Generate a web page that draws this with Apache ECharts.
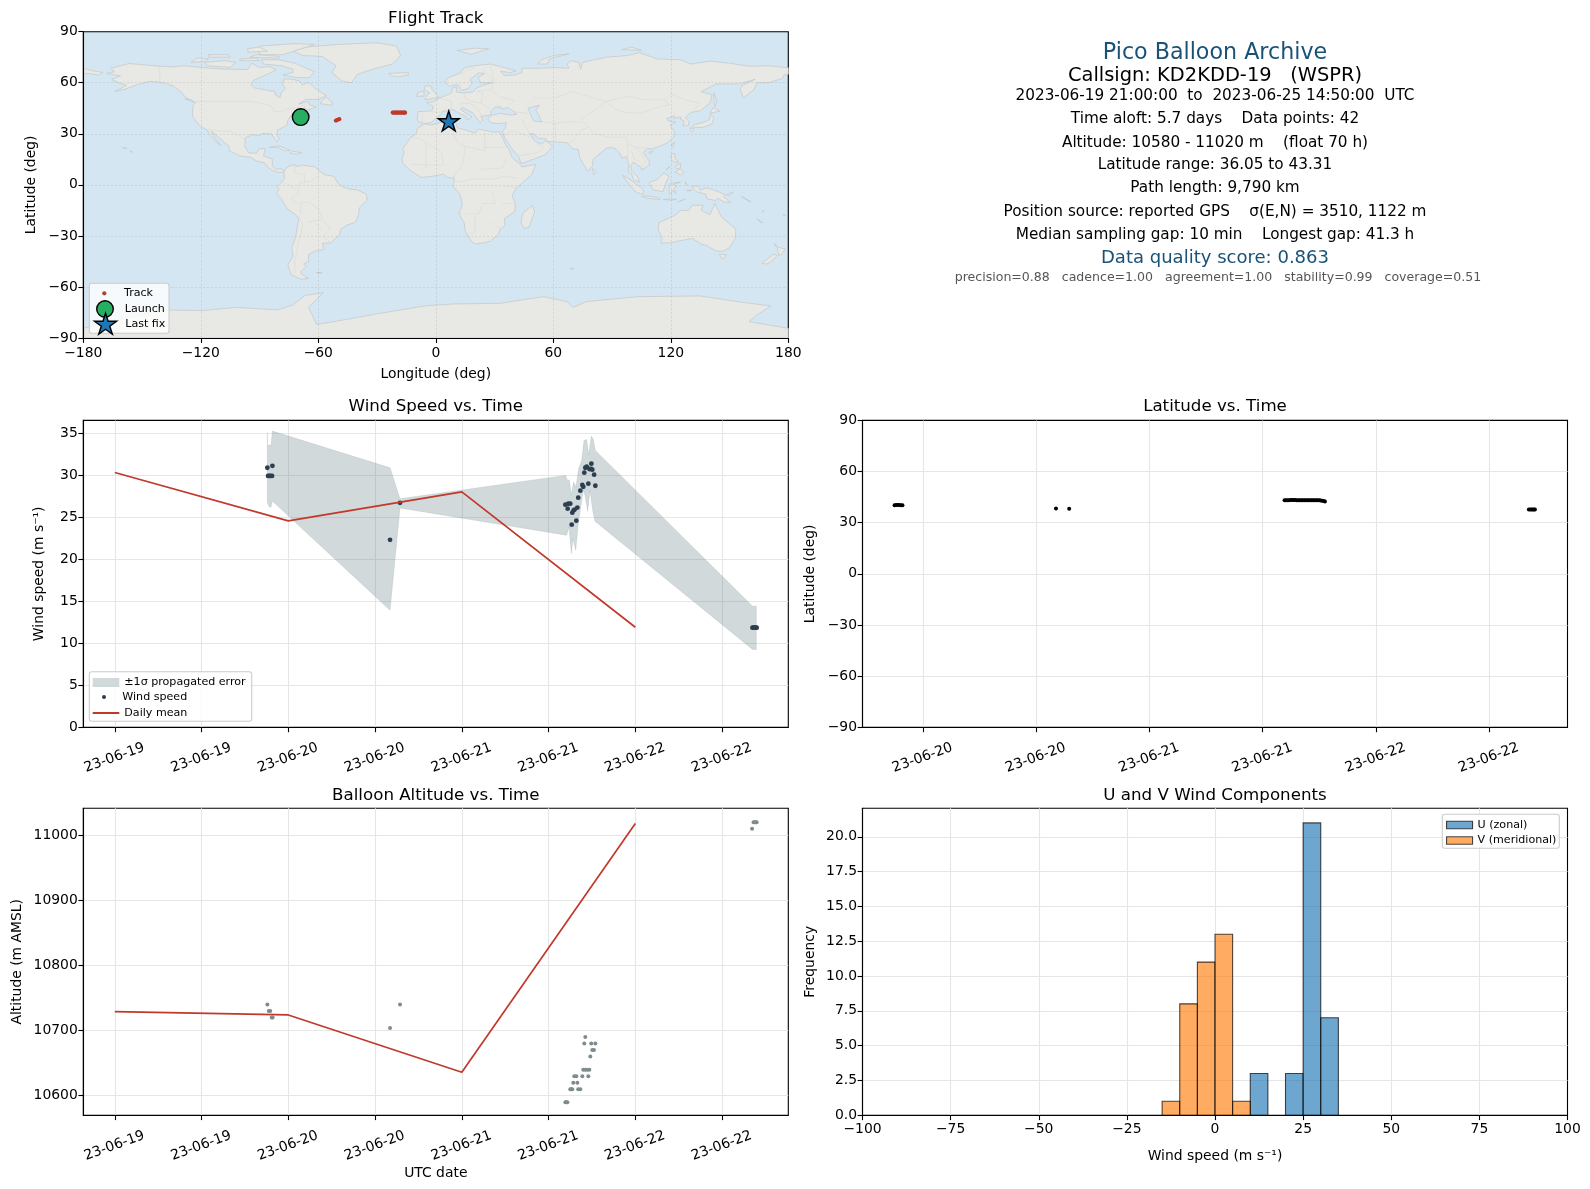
<!DOCTYPE html>
<html><head><meta charset="utf-8">
<script src="https://cdn.jsdelivr.net/npm/echarts@6/dist/echarts.min.js"></script>
<style>html,body{margin:0;padding:0;background:#fff}#c{width:1590px;height:1189px}</style>
</head><body><div id="c"></div>
<script>
// ---------- data ----------
const titles = ['Flight Track','Wind Speed vs. Time','Latitude vs. Time','Balloon Altitude vs. Time','U and V Wind Components'];
const infoLines = [
 ['Pico Balloon Archive',22.2,'#1a5276',53,1215],
 ['Callsign: KD2KDD-19   (WSPR)',19.44,'#000',75.8,1215],
 ['2023-06-19 21:00:00  to  2023-06-25 14:50:00  UTC',15.28,'#000',96.4,1215],
 ['Time aloft: 5.7 days    Data points: 42',15.28,'#000',119.2,1215],
 ['Altitude: 10580 - 11020 m    (float 70 h)',15.28,'#000',142.6,1215],
 ['Latitude range: 36.05 to 43.31',15.28,'#000',164.8,1215],
 ['Path length: 9,790 km',15.28,'#000',188.2,1215],
 ['Position source: reported GPS    σ(E,N) = 3510, 1122 m',15.28,'#000',211.7,1215],
 ['Median sampling gap: 10 min    Longest gap: 41.3 h',15.28,'#000',234.9,1215],
 ['Data quality score: 0.863',18.05,'#1a5276',258.6,1215],
 ['precision=0.88   cadence=1.00   agreement=1.00   stability=0.99   coverage=0.51',12.55,'#555',278,1218]
];
const launch = [[-69,39.8]];
const lastFix = [[6.6,37.5]];
const trackLon = [-69,-68.8,-68.6,-68.4,-68.2,-68,-51,-50.2,-49.3,-22,-21.5,-21,-20.5,-20,-19.5,-19,-18.5,-18,-17.5,-17,-16.5,-16,-15.7,6,6.2,6.4,6.6];
const trackLat = [40,40,40,40,40,40,37.8,38.2,38.6,42.5,42.5,42.5,42.5,42.5,42.5,42.5,42.5,42.5,42.5,42.5,42.5,42.5,42.4,37.5,37.5,37.5,37.5];

const windHours = [21.1,21.2,21.37,21.56,21.75,21.8,38.07,39.45,62.32,62.64,62.73,63.0,63.2,63.28,63.47,63.6,63.84,63.98,64.1,64.39,64.67,64.8,64.94,65.08,65.27,65.5,65.64,65.9,65.92,66.05,66.3,66.47,88.2,88.35,88.5,88.65,88.78];
const windSpeed = [30.87,29.9,29.9,29.9,29.9,31.1,22.3,26.7,26.48,26.0,26.6,26.6,24.1,25.53,25.81,25.89,24.58,26.13,27.31,28.14,28.82,28.6,30.28,30.87,30.99,28.98,30.72,30.72,31.35,30.64,30.04,28.73,11.85,11.85,11.85,11.85,11.85];
const bandUpper = [[21.1,35.03],[21.12,33.53],[21.38,33.53],[21.61,33.53],[21.79,35.23],[38.07,30.87],[39.45,27.19],[62.36,29.96],[62.64,29.33],[62.87,29.45],[63.15,27.67],[63.47,29.17],[63.79,28.58],[64.16,30.76],[64.58,31.75],[64.9,34.12],[65.27,34.24],[65.54,32.42],[65.91,34.64],[66.19,34.24],[66.47,32.93],[88.22,14.41],[88.73,14.41]];
const bandLower = [[21.1,26.72],[21.38,26.2],[21.61,26.2],[21.79,26.9],[38.07,13.93],[39.45,26.08],[62.5,22.84],[62.82,23.83],[63.15,20.66],[63.38,22.44],[63.75,21.06],[64.11,24.22],[64.58,26.99],[64.81,28.18],[65.04,27.59],[65.41,25.69],[65.73,28.18],[66.1,25.81],[66.42,24.5],[88.22,9.26],[88.73,9.26]];
const meanHours = [0,24,48,72];
const windMean = [30.3,24.55,28.0,11.9];
const altMean = [10729,10724,10636,11018];

const latHours = [21.0,21.17,21.33,21.5,21.67,21.83,38.1,39.5,62.32,62.48,62.64,62.8,62.96,63.12,63.28,63.44,63.6,63.76,63.92,64.08,64.24,64.4,64.56,64.72,64.88,65.04,65.2,65.36,65.52,65.68,65.84,66.0,66.16,66.32,66.48,66.6,88.2,88.35,88.5,88.62,88.75,88.85];
const latValues = [40.3,40.4,40.4,40.4,40.3,40.2,38.4,38.2,43.1,43.2,43.2,43.2,43.3,43.3,43.3,43.3,43.2,43.2,43.2,43.2,43.2,43.2,43.2,43.1,43.2,43.2,43.2,43.2,43.1,43.1,43.1,43.1,43,42.9,42.7,42.5,37.8,37.8,37.8,37.8,37.8,37.8];

const altHours = [21.1,21.3,21.5,21.7,21.83,38.07,39.45,62.32,62.46,62.6,63.0,63.14,63.28,64.1,64.39,63.42,63.98,63.56,63.84,64.67,65.5,64.8,65.08,65.36,65.64,65.77,66.05,66.28,64.94,65.9,66.47,65.08,88.15,88.35,88.5,88.65,88.78];
const altValues = [10740,10730,10730,10720,10720,10704,10740,10590,10590,10590,10610,10610,10610,10610,10610,10620,10620,10630,10630,10630,10630,10640,10640,10640,10640,10660,10670,10670,10680,10680,10680,10690,11010,11020,11020,11020,11020];

const binEdgesV = [-15,-10,-5,0,5,10];
const countsV = [1,8,11,13,1];
const binEdgesU = [10,15,20,25,30,35];
const countsU = [3,0,3,21,7];

const windTickHours = [0,12,24,36,48,60,72,84];
const windTickLabels = ['23-06-19','23-06-19','23-06-20','23-06-20','23-06-21','23-06-21','23-06-22','23-06-22'];
const latTickHours = [24,36,48,60,72,84];
const latTickLabels = ['23-06-20','23-06-20','23-06-21','23-06-21','23-06-22','23-06-22'];

const landPolygons = [
 // North America
 [[-168,65.5],[-164,66.5],[-166,68.5],[-156.5,71.3],[-141,69.7],[-135,69.3],[-128,70],[-115,68.5],[-108,68],[-96,67.8],[-94,71.5],[-90,69],[-85,69.5],[-81.5,67.5],[-87,64.5],[-93,61.5],[-94.5,58.8],[-92.5,57],[-85,55.3],[-82.2,55],[-82,52.8],[-79.5,51.3],[-79,54],[-76.8,56.5],[-78.3,59],[-77.5,62.3],[-73,62],[-69.5,61],[-68,58.5],[-65,60.3],[-61.5,56.5],[-56,52.5],[-60,50.2],[-66.5,50.2],[-70,47.5],[-65,49],[-64.5,47],[-61,45.8],[-66,43.7],[-66.5,45],[-70,43.7],[-70.5,41.8],[-74,40.6],[-75.5,38],[-76,35],[-81,32],[-81,30],[-80,26.5],[-81,25.2],[-82.8,28],[-84,30],[-89,30.2],[-90,29],[-94,29.5],[-97.3,27.5],[-97.5,22.5],[-95.5,18.8],[-91.5,18.5],[-90.5,21],[-87,21.5],[-88,17],[-83.5,15.2],[-83.5,11],[-81.5,9],[-79.5,9.5],[-77.3,8.5],[-78,7.5],[-80.5,7.3],[-83,8.2],[-85.5,10],[-87.5,13],[-91.5,14],[-94.5,16.2],[-100,17],[-105.5,20],[-105.5,22.5],[-109,26],[-112.5,29.5],[-114.7,31.5],[-112.5,27],[-109.5,23],[-112,25],[-115,29],[-117,32.5],[-120.5,34.5],[-122.5,37.5],[-124.3,40.5],[-124,46.5],[-122.7,48.5],[-127.5,51],[-130,54.5],[-134,58],[-139,60],[-146,60.8],[-152,59],[-158,56.5],[-164,54.8],[-158,58.5],[-162,60],[-165.5,62],[-161,64]],
 [[-73,78.5],[-66,81],[-50,82.5],[-30,83.5],[-20,81.5],[-18,76],[-22,71],[-32,68],[-40,65],[-43,60],[-48,61],[-53,66],[-51,70],[-58,75.5],[-68,76]],
 [[-80,73.5],[-72,71.5],[-67,69],[-62,66.5],[-64.5,63],[-71,63],[-78,64.5],[-73,66],[-73,68],[-79,70],[-88,71],[-89,73.5]],
 [[-117,70],[-105,69],[-102,72],[-108,73],[-118,72]],
 [[-125,72],[-118,72.5],[-116,74],[-122,74.5]],
 [[-90,76.5],[-78,76.5],[-62,82.5],[-72,83],[-90,81.5]],
 [[-95,75],[-80,74.5],[-80,75.5],[-92,76.5]],
 [[-116,75],[-105,75],[-106,76.5],[-116,76.5]],
 [[-100,73],[-90,73],[-92,74.5],[-100,74]],
 [[-96,78],[-86,78.5],[-90,81],[-96,80]],
 [[-59,47.7],[-53,46.7],[-53,48.7],[-56,51.5],[-58,49.5]],
 [[-128,50.5],[-123.5,48.5],[-125,50]],
 [[-85,22],[-80,23],[-74.3,20.2],[-77.5,20],[-80,21.8],[-83,22]],
 [[-74.4,18.5],[-73,19.8],[-68.5,18.8],[-71,18]],
 [[-156,20],[-155,19.5],[-155.7,19]],
 [[-160,22],[-158,21.3],[-157.8,21.6]],
 // South America
 [[-77.3,8.5],[-75,11],[-72,12],[-71.5,10.8],[-68,11.5],[-62,10.7],[-57,6],[-52,5],[-50,1],[-48,-1],[-44,-2.5],[-40,-3],[-35.5,-5.5],[-35,-9],[-39,-13.5],[-39.5,-18],[-41,-22],[-45,-23.5],[-48.5,-26],[-49,-29],[-53.5,-34],[-58,-34.5],[-57,-38],[-62,-39],[-65,-41],[-65,-45],[-67.5,-46.5],[-66,-48],[-69,-51],[-68.5,-52.5],[-65,-55],[-69,-55.5],[-74,-52.5],[-75.5,-47],[-73,-42],[-73.5,-37],[-71.5,-30],[-70,-20],[-71.5,-17.5],[-76,-14],[-79,-8],[-81.3,-5],[-80,-2.5],[-81,-1],[-78.5,2],[-77.3,4],[-77.5,7]],
 [[-61,-51.5],[-58,-51.5],[-59,-52.2]],
 // Africa
 [[-6,35.8],[-2,35.2],[3,36.8],[10,37.3],[11,33.5],[15,32.3],[20,30.5],[22,32.8],[29,31],[32.5,31.2],[34,28],[35.5,24],[37.3,21],[39,16],[43,12],[44,10.5],[51,12],[49,6],[45,2],[41,-2],[39,-6],[40.5,-11],[40.5,-15.5],[35,-20],[35.3,-24],[32.8,-26],[32,-29],[28,-33],[25,-34],[20,-34.8],[18,-33],[15,-27],[14.5,-22.5],[11.8,-17],[13.5,-12],[13,-8],[12,-5],[9,-1],[9.5,4],[6,4.3],[4,6.3],[-2,5],[-7.5,4.4],[-13,8.5],[-16.8,12.5],[-17.3,15],[-16,19.5],[-17,21],[-13,27.7],[-10,30],[-9.5,33]],
 // Eurasia
 [[-9.5,38.7],[-9,43],[-2,43.5],[-1.2,46],[-4.7,48.4],[-1.5,48.7],[1.5,50.8],[4,52],[8,54],[8.5,57],[10.5,57.5],[10.5,54.5],[14,54],[19,54.5],[21,57],[24,58.5],[29,60],[23,60],[21.5,63],[25,65.5],[22,65.8],[17.5,62],[18.5,59.5],[16.5,56.5],[13,55.5],[11,59],[7,58],[5,60],[5.5,62.5],[12,65.5],[15,69],[21,70.2],[28,71],[33,69.5],[41,67],[38,66],[33,66.7],[35,64.3],[40,64.5],[44,66],[44,68.5],[54,68.5],[60,69],[68,68.5],[67,71],[69,73],[73,72],[74,68],[75,72],[81,73.5],[87,75],[98,76],[104,77.7],[113,74],[125,73.5],[130,71],[140,72.7],[150,71.5],[160,69.7],[170,70],[178,69],[180,68.8],[180,65],[178,64.7],[177,62.5],[170,60],[164,60],[162.5,56],[157,51],[155.5,56],[156,58],[163,62],[155,59.3],[143,59.3],[135.5,54.7],[141,53],[140,48],[135,43.5],[130,42.5],[127.5,39.5],[129.3,37],[129,35],[126.3,34.5],[126.8,37.5],[125,38.5],[125,40],[121.5,39],[122,40.5],[118,39],[119,37.3],[122.5,37],[119.5,35],[122,31],[121.5,28],[118,24.5],[113.5,22.3],[110,21],[108,21.5],[106,19],[109,14],[109,11.5],[105,8.7],[105,10],[102.5,12.2],[100.8,13.3],[99.5,11],[100,8],[103,5],[104,1.5],[101,3],[100,6.5],[98.3,8],[98.5,12],[97.5,16.5],[95,16],[94,18.5],[92,21],[90,22],[87,21.5],[85,19.5],[80.3,15],[80,11],[77.5,8],[76,11],[73.5,16],[72.8,21],[70,21],[69,22.5],[67,24.8],[61.5,25.2],[57,25.5],[56.3,27],[52,27.5],[50,30],[48,30],[50,26.5],[51.5,25],[54,24],[56.3,26],[59.8,22.5],[55.5,17.5],[52,16],[45,13],[43.3,12.7],[42.5,16.5],[39,21],[35,28],[34,31.2],[35.5,33.5],[36,36.5],[32,36],[28,36.5],[26.5,39],[29,41],[33,42],[38,41],[41.5,41.5],[38,44.5],[37,45.5],[33.5,44.5],[33,46],[30,45.5],[28,43],[28.5,41.2],[26,40.7],[23,40.3],[24,38],[22.5,36.5],[19.5,41.5],[18.5,42.5],[13.5,45.5],[12.5,44.5],[16,41.5],[18.5,40],[16,38],[15.7,40],[10.5,43],[8.7,44.4],[3.2,43],[3,41.7],[0,39],[-2,36.8],[-5.5,36],[-9,37]],
 [[-180,68.5],[-175,67],[-170,66],[-172,64.5],[-178,65.5],[-180,65]],
 [[-5.5,50],[1.5,51.3],[0,53.5],[-2,56],[-2,57.7],[-5,58.5],[-6,56],[-3,54],[-5,52]],
 [[-10,52],[-6,52.2],[-6,55],[-9,54.5]],
 [[-24,65.5],[-14,66],[-14,64.7],[-19,63.4],[-22.5,64]],
 [[11,79],[20,80.3],[27,80],[18,76.7]],
 [[52,71],[57,71],[58,74],[68,77],[60,76],[54,73.5]],
 [[95,79.5],[105,79],[100,81]],
 [[142,54],[143.5,49],[142.5,46],[142,50]],
 [[131,34],[136,33.6],[141,35.7],[142,39.5],[140.5,41.5],[139.5,38],[136,36.5],[132,35.5]],
 [[140,42],[145,43.3],[141.7,45.5]],
 [[130,33.5],[132,33],[131,31],[130,32]],
 [[120.2,23],[121.8,25.2],[121,22]],
 [[108.8,19],[110.8,20],[110,18.3]],
 [[80,9.7],[82,7.5],[80.5,6]],
 [[120,16],[120.7,18.5],[122.2,18.2],[122,16],[124,13],[121,13.7]],
 [[122,7.5],[125,9.5],[126.5,7],[125,5.8]],
 [[122,11],[125,12.5],[125,10],[123,9.5]],
 [[117.3,8.5],[119.5,11],[119,10]],
 [[109,1.5],[113,3],[116.5,7],[119,5],[117.5,1],[116,-4],[111,-3],[110,-1]],
 [[95.3,5.6],[98,4],[104,-1],[106,-3],[105.8,-5.8],[102,-4],[99,0]],
 [[105.2,-6.8],[108.5,-6.5],[114.5,-7.8],[114.3,-8.7],[108,-7.8]],
 [[119.5,-5.5],[119,-3],[120,1],[125,1.5],[121,0.3],[123,-1],[121.5,-2],[122.8,-5],[120.5,-3],[120.4,-5.5]],
 [[124,-10],[127,-8.5],[125,-9.3]],
 [[116,-8.6],[119,-8.3],[123,-8.5],[120,-9]],
 [[127.5,1.8],[128.5,-0.5],[127.8,0]],
 [[128,-3],[130.8,-3.2],[128.5,-3.6]],
 [[131,-0.8],[134,-0.8],[135,-3.3],[138,-1.7],[141,-2.6],[145,-4.3],[147.8,-6],[147,-7],[150.5,-10.5],[147,-10],[144,-7.8],[143,-9.2],[138.5,-8.3],[138,-5.5],[133,-4],[132,-2.8]],
 [[148.5,-5.7],[152,-4.2],[150,-6.3]],
 [[156,-6.8],[161,-10],[160,-9.7]],
 [[164,-20],[167,-22.3],[165.5,-21.8]],
 [[167,-15],[167.5,-16],[166.8,-15.8]],
 [[177.5,-17.5],[178.5,-18],[177.5,-18.2]],
 [[113.5,-26],[114,-22],[117,-20.7],[122,-18],[125,-15],[129,-15],[131,-12],[136.5,-12],[135.5,-15],[140,-17.5],[141.7,-13],[142.5,-10.8],[144,-14.5],[146,-19],[149.5,-22.5],[153.2,-26],[153,-31],[150,-37],[146.5,-39],[143,-38.8],[138,-35.5],[135.5,-34.8],[131,-31.5],[124,-33],[120,-34],[115,-34.3],[115.5,-31]],
 [[144.8,-40.8],[148.3,-41],[147,-43.5],[146,-43.5]],
 [[172.8,-34.5],[175,-36.8],[178.5,-37.7],[176.5,-41],[175,-41.5],[174.8,-39],[174.5,-37.5]],
 [[172.7,-40.6],[174.2,-41.7],[171,-45.5],[168.5,-46.6],[166.5,-46],[170,-43]],
 [[49.3,-12],[50.5,-16],[47.5,-25],[45,-25.5],[43.5,-22],[44.5,-16.5]],
 [[68.7,-49],[70.5,-49.3],[69.5,-49.8]],
 // Antarctica
 [[-180,-84.3],[-165,-80],[-150,-76.5],[-141,-73.5],[-119,-73.9],[-102,-72],[-81,-73.5],[-73,-70.6],[-66.8,-65],[-57.4,-63.3],[-65,-72],[-60.8,-82],[-47,-79.4],[-28.5,-75.5],[-4.6,-71],[9,-70],[33,-69.6],[55,-65.7],[67,-68.6],[70,-72],[77,-68.6],[103,-65.7],[135,-65.3],[154,-68.6],[171,-71.2],[164,-76.5],[160,-80.4],[180,-84.3],[180,-90],[-180,-90]]
];
const lakePolygons = [
 [[47,45],[53,46.8],[51,44],[53,40],[54,37],[50,37.5],[49,40]]
];
const borderLines = [
 [[-123,49],[-95,49],[-89,48],[-84,46.5],[-82.5,43],[-79,43],[-75,45],[-71,45],[-67,47],[-67,45]],
 [[-141,69.7],[-141,60],[-135,59],[-130,55]],
 [[-117,32.5],[-108,31.5],[-106,31.7],[-101,29.7],[-97.3,26]],
 [[-60,5],[-64,2],[-70,1],[-70,-4],[-74,-8],[-70,-11],[-65,-10],[-60,-14],[-58,-20],[-55,-24],[-54,-26],[-57.5,-30],[-53.5,-34]],
 [[-70,-18],[-68,-24],[-70,-33],[-72,-45],[-72,-52]],
 [[-78.5,1.5],[-75,0],[-70,-4]],
 [[-72,12],[-72,7],[-67,6],[-67,1.5]],
 [[-69,-11],[-69,-17]],[[-65,-22],[-58,-20]],[[-62,-22],[-58,-27]],
 [[-8.7,27.5],[-13,27.7]],[[-8.7,27.5],[3,19],[4,11]],[[12,23.5],[25,20],[25,31]],[[25,22],[37,22]],
 [[15,23],[14,13],[9,4.5]],[[22,11],[24,9],[34,10],[36,15]],[[29,-4],[30,-11],[24,-11],[22,-17],[12,-17]],
 [[20,-18],[20,-28],[17,-29]],[[29,-22],[33,-26]],[[34,-11],[40,-11]],[[34,-1],[41,-1.5]],
 [[42,4],[35,5],[30,3.5],[18,3.5],[14,2],[9.5,2.2]],[[-12,12],[3,11.5]],[[-5,25],[-5,10]],[[10,37],[9,30],[12,23.5]],
 [[28,70],[30,60],[28,56],[32,52],[40,49.5],[38,47]],[[47,42],[40,43]],
 [[50,51],[61,51],[70,55],[80,51],[87,49],[98,52],[107,50],[117,50],[120,53.5],[127,50],[135,48],[131,43]],
 [[87,49],[80,43],[74,39],[78,34],[81,30],[88,28],[97,28],[98,24],[102,22],[108,21.5]],
 [[87,49],[91,45],[97,42.5],[105,42],[112,45],[119,47],[117,50]],
 [[68,24],[71,27],[74,32],[78,34]],[[44,39],[46,34],[48,30]],[[61,37],[61,30],[61.5,25]],[[54,37],[61,36],[66,37],[74,37]],
 [[35,29],[39,32],[46,29],[48,28]],[[43,17],[52,19],[55,22],[52,24]],
 [[2,51],[8,49],[7.5,44]],[[-2,43],[3,42.5]],[[-7,42],[-7,37]],[[14,54],[15,51],[18,49],[23,48],[28,45]],
 [[23,48],[24,54],[21,55],[28,56]],[[12,47.5],[17,48],[20,46],[22,44],[23,41]],[[12,65],[20,69]],[[12,60],[13,55.5]],[[24,68],[29,62],[28,60]],
 [[98,24],[98,15],[99,10]],[[102,22],[105,18],[107,14],[105,10.5]],[[100,20],[101,15],[104,14]]
];

// ---------- layout ----------
const F = 'DejaVu Sans';
const COL = [83.3, 862.5], W = 705;
const boxes = [
 {left:COL[0],top:31.7,width:W,height:306.3},
 {left:COL[0],top:420.4,width:W,height:306.9},
 {left:COL[1],top:420.4,width:W,height:306.9},
 {left:COL[0],top:808.3,width:W,height:306.9},
 {left:COL[1],top:808.3,width:W,height:306.9}
];
const titleTops = [10,398,398,787,787];
const grids = boxes.map((b,i)=>({...b,show:true,borderColor:'#000',borderWidth:1.1,
  backgroundColor:i===0?'#d4e6f1':'#fff',containLabel:false}));

const gridLine = {show:true,lineStyle:{color:'#e6e6e6',width:1.1}};
const gridNoEnds = {...gridLine,showMinLine:false,showMaxLine:false};
const gridNoMin = {...gridLine,showMinLine:false};
const mapGridLine = {show:true,showMinLine:false,showMaxLine:false,lineStyle:{color:'rgba(120,120,120,0.22)',width:0.8,type:[2,2]}};
const axLine = {show:true,onZero:false,lineStyle:{color:'#000',width:1.1}};
const tick = {show:true,length:4.9,lineStyle:{color:'#000',width:1.1}};
const lab = {color:'#000',fontFamily:F,fontSize:13.9,margin:5.5};
const yLab = {...lab,padding:[4,0,0,0]};
const nameTs = {color:'#000',fontFamily:F,fontSize:13.9};
const minus = v=>String(v).replace('-','−');

function hourAxis(gi,min,max,hours,labels,name){
 return {type:'value',gridIndex:gi,min,max,
  axisLine:axLine,splitLine:gridLine,
  axisTick:{...tick,customValues:hours},
  axisLabel:{...lab,customValues:hours,rotate:20,align:'center',verticalAlign:'top',margin:23,padding:[0,6,0,0],hideOverlap:false,
    formatter:v=>labels[hours.indexOf(v)]},
  name,nameLocation:'middle',nameGap:51,nameTextStyle:nameTs};
}
const altTicks=[10600,10700,10800,10900,11000];
const windTicks=[0,5,10,15,20,25,30,35];
const histYTicks=[0,2.5,5,7.5,10,12.5,15,17.5,20];

const xAxes=[
 {type:'value',gridIndex:0,min:-180,max:180,interval:60,z:1,axisLine:axLine,axisTick:tick,splitLine:mapGridLine,
  axisLabel:{...lab,margin:8.5,formatter:minus},name:'Longitude (deg)',nameLocation:'middle',nameGap:29,nameTextStyle:nameTs},
 hourAxis(1,-4.36,93.16,windTickHours,windTickLabels,''),
 hourAxis(2,17.6,92.3,latTickHours,latTickLabels,''),
 hourAxis(3,-4.36,93.16,windTickHours,windTickLabels,'UTC date'),
 {type:'value',gridIndex:4,min:-100,max:100,interval:25,axisLine:axLine,axisTick:tick,splitLine:gridNoEnds,
  axisLabel:{...lab,margin:7.5,formatter:minus},name:'Wind speed (m s⁻¹)',nameLocation:'middle',nameGap:34,nameTextStyle:nameTs}
];
const yAxes=[
 {type:'value',gridIndex:0,min:-90,max:90,interval:30,z:1,axisLine:axLine,axisTick:tick,splitLine:mapGridLine,
  axisLabel:{...yLab,formatter:minus},name:'Latitude (deg)',nameLocation:'middle',nameGap:45,nameTextStyle:nameTs},
 {type:'value',gridIndex:1,min:0,max:36.5,axisLine:axLine,axisTick:{...tick,customValues:windTicks},splitLine:gridNoMin,
  axisLabel:{...yLab,customValues:windTicks},name:'Wind speed (m s⁻¹)',nameLocation:'middle',nameGap:37,nameTextStyle:nameTs},
 {type:'value',gridIndex:2,min:-90,max:90,interval:30,axisLine:axLine,axisTick:tick,splitLine:gridNoEnds,
  axisLabel:{...yLab,formatter:minus},name:'Latitude (deg)',nameLocation:'middle',nameGap:45,nameTextStyle:nameTs},
 {type:'value',gridIndex:3,min:10570,max:11041.5,axisLine:axLine,axisTick:{...tick,customValues:altTicks},splitLine:gridLine,
  axisLabel:{...yLab,customValues:altTicks,formatter:v=>String(v)},name:'Altitude (m AMSL)',nameLocation:'middle',nameGap:59,nameTextStyle:nameTs},
 {type:'value',gridIndex:4,min:0,max:22.05,axisLine:axLine,axisTick:{...tick,customValues:histYTicks},splitLine:gridNoMin,
  axisLabel:{...yLab,customValues:histYTicks,formatter:v=>v.toFixed(1)},name:'Frequency',nameLocation:'middle',nameGap:45,nameTextStyle:nameTs}
];

function polyRender(list,style,closed){
 return (params,api)=>({type:closed?'polygon':'polyline',shape:{points:list[params.dataIndex].map(p=>api.coord(p))},style,silent:true});
}
const indexData=l=>l.map((_,i)=>[i,0]);

const STAR='path://M50 0L61.2 34.55L97.55 34.55L68.17 55.9L79.39 90.45L50 69.1L20.61 90.45L31.83 55.9L2.45 34.55L38.8 34.55Z';
const BAND='rgba(102,128,135,0.3)';
const BLUE='rgba(31,119,180,0.65)', ORANGE='rgba(255,127,14,0.65)', EDGE='rgba(0,0,0,0.7)';
const zip=(a,b)=>a.map((v,i)=>[v,b[i]]);

function histSeries(name,edges,counts,fill){
 return {name,type:'custom',xAxisIndex:4,yAxisIndex:4,z:3,clip:true,
  data:counts.map((c,i)=>[edges[i],edges[i+1],c]).filter(d=>d[2]>0),
  encode:{x:[0,1],y:2},
  renderItem:(p,api)=>{
   const a=api.coord([api.value(0),api.value(2)]),b=api.coord([api.value(1),0]);
   return {type:'rect',shape:{x:a[0],y:a[1],width:b[0]-a[0],height:b[1]-a[1]},style:{fill,stroke:EDGE,lineWidth:1.1}};
  }};
}

const series=[
 {type:'custom',name:'land',xAxisIndex:0,yAxisIndex:0,z:0,silent:true,data:indexData(landPolygons),
  renderItem:polyRender(landPolygons,{fill:'#e8e8e4',stroke:'#c3c7c8',lineWidth:0.7,lineJoin:'round'},true)},
 {type:'custom',name:'lakes',xAxisIndex:0,yAxisIndex:0,z:0,silent:true,data:indexData(lakePolygons),
  renderItem:polyRender(lakePolygons,{fill:'#d4e6f1',stroke:'#c3c7c8',lineWidth:0.7},true)},
 {type:'custom',name:'borders',xAxisIndex:0,yAxisIndex:0,z:0,silent:true,data:indexData(borderLines),
  renderItem:polyRender(borderLines,{fill:'none',stroke:'#dbdcda',lineWidth:0.7},false)},
 {name:'Track',type:'scatter',xAxisIndex:0,yAxisIndex:0,z:4,symbolSize:4.2,silent:true,itemStyle:{color:'#c0392b',opacity:1},data:zip(trackLon,trackLat)},
 {name:'Launch',type:'scatter',xAxisIndex:0,yAxisIndex:0,z:5,symbolSize:16.6,silent:true,itemStyle:{color:'#27ae60',borderColor:'#000',borderWidth:1.4,opacity:1},data:launch},
 {name:'Last fix',type:'scatter',xAxisIndex:0,yAxisIndex:0,z:6,symbol:STAR,symbolKeepAspect:true,symbolSize:21,silent:true,itemStyle:{color:'#1f77b4',borderColor:'#000',borderWidth:1.4,opacity:1},data:lastFix},

 {name:'±1σ propagated error',type:'custom',xAxisIndex:1,yAxisIndex:1,z:2,silent:true,itemStyle:{color:BAND},
  data:[[0,0]],clip:true,
  renderItem:(p,api)=>({type:'polygon',shape:{points:bandUpper.concat(bandLower.slice().reverse()).map(q=>api.coord(q))},
    style:{fill:BAND,stroke:'rgba(102,128,135,0.15)',lineWidth:1}})},
 {name:'Wind speed',type:'scatter',xAxisIndex:1,yAxisIndex:1,z:3,symbolSize:4.8,silent:true,itemStyle:{color:'#2c3e50',opacity:1},data:zip(windHours,windSpeed)},
 {name:'Daily mean',type:'line',xAxisIndex:1,yAxisIndex:1,z:4,symbol:'none',silent:true,lineStyle:{color:'#c0392b',width:1.7},itemStyle:{color:'#c0392b'},data:zip(meanHours,windMean)},

 {name:'lat',type:'scatter',xAxisIndex:2,yAxisIndex:2,z:3,symbolSize:4,silent:true,itemStyle:{color:'#000',opacity:1},data:zip(latHours,latValues)},

 {name:'alt',type:'scatter',xAxisIndex:3,yAxisIndex:3,z:3,symbolSize:4,silent:true,itemStyle:{color:'#7f8c8d',opacity:1},data:zip(altHours,altValues)},
 {name:'altmean',type:'line',xAxisIndex:3,yAxisIndex:3,z:4,symbol:'none',silent:true,lineStyle:{color:'#c0392b',width:1.7},data:zip(meanHours,altMean)},

 histSeries('U (zonal)',binEdgesU,countsU,BLUE),
 histSeries('V (meridional)',binEdgesV,countsV,ORANGE)
];

// ---------- legends ----------
const lts={fontFamily:F,fontSize:11.1,color:'#000'};
function row(name,left,cy,w,h,extra){
 return {show:true,z:60,orient:'horizontal',left,top:cy-Math.max(h,13)/2,padding:0,itemWidth:w,itemHeight:h,selectedMode:false,
   textStyle:lts,data:[{name,...extra}]};
}
const legends=[
 row('Track',102.2,294.3,29.4,4.2,{icon:'circle',itemStyle:{color:'#c0392b'}}),
 row('Launch',96,308.3,29.4,16.6,{icon:'circle',itemStyle:{color:'#27ae60',borderColor:'#000',borderWidth:1.4}}),
 row('Last fix',93.8,323,29.4,21,{icon:STAR,itemStyle:{color:'#1f77b4',borderColor:'#000',borderWidth:1.4}}),
 row('±1σ propagated error',92.7,683.5,26.6,9,{icon:'rect',itemStyle:{color:BAND,borderWidth:0}}),
 row('Wind speed',102,698,26.6,4,{icon:'circle',itemStyle:{color:'#2c3e50'}}),
 row('Daily mean',92.7,714,26.6,2,{icon:'rect',itemStyle:{color:'#c0392b'},lineStyle:{color:'#c0392b',width:1.7}}),
 row('U (zonal)',1446,826,26,7.4,{icon:'rect',itemStyle:{color:BLUE,borderColor:EDGE,borderWidth:1.1}}),
 row('V (meridional)',1446,841.5,26,7.4,{icon:'rect',itemStyle:{color:ORANGE,borderColor:EDGE,borderWidth:1.1}})
];
const frame=(x,y,w,h)=>({type:'rect',z:50,silent:true,shape:{x,y,width:w,height:h,r:2.5},style:{fill:'rgba(255,255,255,0.8)',stroke:'#ccc',lineWidth:1.1}});

const graphics=[
 frame(89.3,283.3,79.7,50),
 frame(89.3,671.7,162.4,49.6),
 frame(1442.3,814.3,117,34)
].concat(infoLines.map(l=>({type:'text',silent:true,x:l[4],y:l[3],
   style:{text:l[0],fontFamily:F,fontSize:l[1],fill:l[2],textAlign:'center',textVerticalAlign:'middle'}})));

const chart=echarts.init(document.getElementById('c'),null,{renderer:'canvas',width:1590,height:1189});
chart.setOption({
 animation:false,backgroundColor:'#fff',
 title:titles.map((t,i)=>({text:t,left:boxes[i].left+boxes[i].width/2,top:titleTops[i],textAlign:'center',padding:0,
   textStyle:{fontFamily:F,fontSize:16.67,fontWeight:'normal',color:'#000'}})),
 grid:grids,xAxis:xAxes,yAxis:yAxes,series,legend:legends,
 graphic:{elements:graphics}
});
</script></body></html>
